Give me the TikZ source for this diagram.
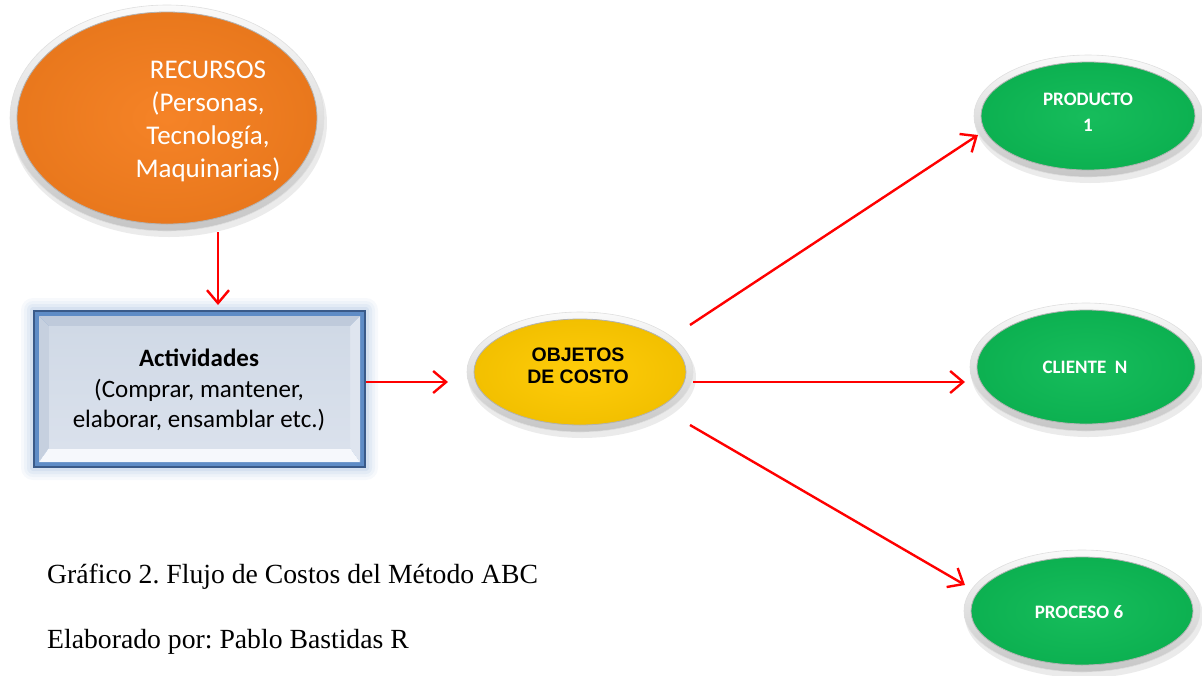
\documentclass[tikz,border=0pt]{standalone}
\usepackage{fontspec}
\setmainfont{Liberation Serif}
\newfontfamily\calibri{Carlito}
\newfontfamily\arialf{Liberation Sans}
\usetikzlibrary{arrows.meta,shapes.geometric,calc}

\definecolor{recorange}{HTML}{F57E1E}
\definecolor{objgold}{HTML}{FFCA00}
\definecolor{outgreen}{HTML}{0DBA55}
\definecolor{boxline}{HTML}{3A5A89}
\definecolor{boxband}{HTML}{5F8CC6}
\definecolor{bevtop}{HTML}{BFCADB}
\definecolor{bevleft}{HTML}{C6D0DF}
\definecolor{bevright}{HTML}{DFE5EF}
\definecolor{bevbottom}{HTML}{F6F8FC}
\definecolor{facetop}{HTML}{D0D9E6}
\definecolor{facebottom}{HTML}{DAE1EC}
\definecolor{arrowred}{HTML}{FF0000}

% silver-rimmed oval: name, x, y, x radius, y radius, fill colour
\newcommand\silveroval[6]{%
  \fill[black, opacity=.08] (#2+2,#3+5) ellipse [x radius=#4pt+1pt, y radius=#5pt+1pt];
  \shade[top color=gray!4, bottom color=gray!45, draw=gray!25, line width=.6pt]
    (#2,#3) ellipse [x radius=#4pt, y radius=#5pt];
  \shade[inner color=#6!96!white, outer color=#6!95!black, draw=gray!60, line width=.8pt]
    (#2,#3) ellipse [x radius=#4pt-7pt, y radius=#5pt-7pt];
  \node[ellipse, inner sep=0pt, minimum width=2*#4pt, minimum height=2*#5pt] (#1) at (#2,#3) {};
}

\tikzset{
  arr/.style={draw=arrowred, line width=2.4pt, -{Straight Barb[length=13pt,width=22pt]}},
  whitelabel/.style={text=white, align=center, inner sep=0pt},
  outlabel/.style={whitelabel, font=\calibri\bfseries\fontsize{19}{26}\selectfont},
  caption/.style={anchor=base west, inner sep=0pt, font=\frenchspacing\fontsize{27.7}{33}\selectfont}
}

\begin{document}
\begin{tikzpicture}[x=1pt,y=-1pt]
\useasboundingbox (0,0) rectangle (1202,675);

% resources oval
\silveroval{rec}{167}{118}{157}{113}{recorange}
\node[whitelabel, font=\calibri\fontsize{27}{33}\selectfont] (rectxt) at (208,121)
  {RECURSOS\\(Personas,\\Tecnología,\\Maquinarias)};

% activities box: glow, frame and bevelled face
\foreach \g/\o in {12/0.05, 9/0.06, 6/0.08, 3/0.10}
  \fill[boxband, opacity=\o, rounded corners=\g pt] (33-\g,310-\g) rectangle (366+\g,468+\g);
\fill[boxline] (33,310) rectangle (366,468);
\fill[boxband] (35,312) rectangle (364,466);
\fill[bevtop] (39,316) -- (360,316) -- (350,326) -- (49,326) -- cycle;
\fill[bevleft] (39,316) -- (49,326) -- (49,448) -- (39,462) -- cycle;
\fill[bevright] (360,316) -- (350,326) -- (350,448) -- (360,462) -- cycle;
\fill[bevbottom] (39,462) -- (49,448) -- (350,448) -- (360,462) -- cycle;
\shade[top color=facetop, bottom color=facebottom] (49,326) rectangle (350,448);
\node[minimum width=333pt, minimum height=158pt, inner sep=0pt] (act) at (199.5,389) {};
\node[align=center, inner sep=0pt, font=\calibri\fontsize{25}{30.5}\selectfont] (acttxt) at (199,390)
  {\textbf{Actividades}\\(Comprar, mantener,\\elaborar, ensamblar etc.)};

% cost objects oval
\silveroval{obj}{580}{372}{113}{60}{objgold}
\node[align=center, inner sep=0pt, font=\arialf\bfseries\fontsize{19.5}{22.5}\selectfont] (objtxt) at (578,366)
  {OBJETOS\\DE COSTO};

% output ovals
\silveroval{p1}{1088}{116}{114}{61}{outgreen}
\node[outlabel] (p1txt) at (1088,112) {PRODUCTO\\1};
\silveroval{cli}{1086}{367}{116}{64}{outgreen}
\node[outlabel] (clitxt) at (1085,367) {CLIENTE\ \ N};
\silveroval{pro}{1082}{611}{118}{61}{outgreen}
\node[outlabel] (protxt) at (1079,612) {PROCESO 6};

% flow arrows
\draw[arr] ($(rec.center)+(51,114)$) -- ($(act.center)+(18.5,-84)$);
\draw[arr] ($(act.center)+(166.5,-7)$) -- ($(obj.center)+(-132,10)$);
\draw[arr] ($(obj.center)+(110,-47)$) -- ($(p1.center)+(-110,19)$);
\draw[arr] ($(obj.center)+(113,10)$) -- ($(cli.center)+(-121,15)$);
\draw[arr] ($(obj.center)+(110,53)$) -- ($(pro.center)+(-117,-26)$);

% captions
\node[caption] (cap1) at (47,583) {Gráfico 2. Flujo de Costos del Método ABC};
\node[caption] (cap2) at (47,648) {Elaborado por: Pablo Bastidas R};
\end{tikzpicture}
\end{document}
